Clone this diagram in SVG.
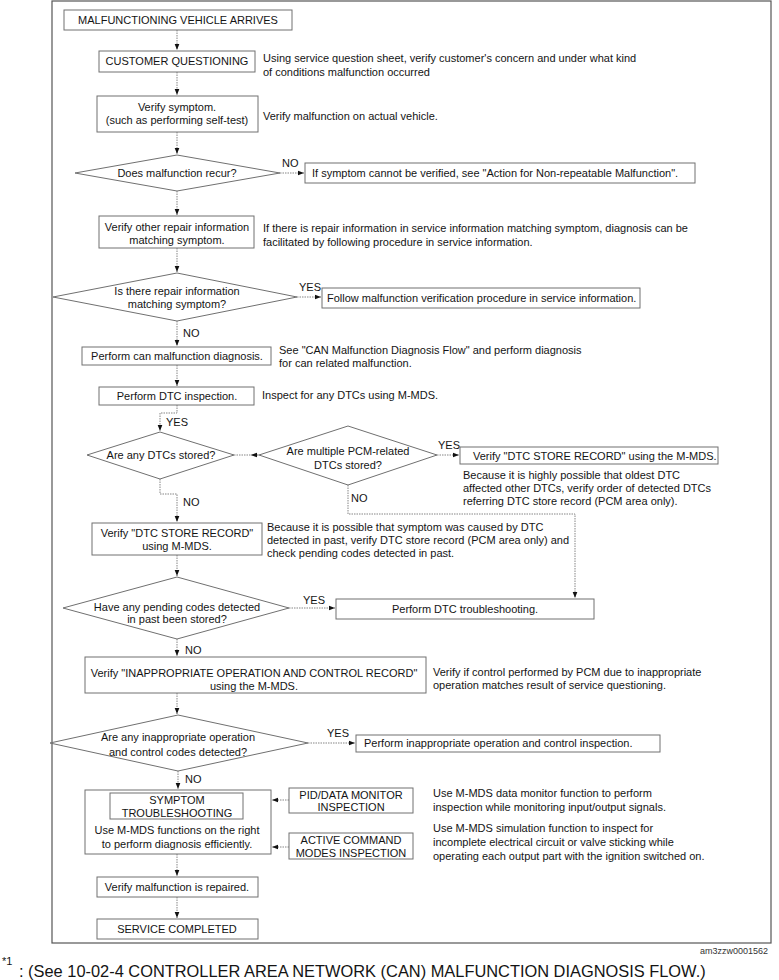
<svg xmlns="http://www.w3.org/2000/svg" width="779" height="980" viewBox="0 0 779 980">
<style>
text{font-family:"Liberation Sans",Arial,Helvetica,sans-serif;font-size:11px;fill:#141414}
.c{text-anchor:middle}
.b{fill:#fff;stroke:#707070;stroke-width:1}
.d{fill:#fff;stroke:#707070;stroke-width:1}
.kn{fill:none;stroke:#858585;stroke-width:1;stroke-dasharray:1.5 1;marker-end:url(#ah)}
.fr{fill:none;stroke:#555;stroke-width:1.2}
</style>
<defs>
<marker id="ah" markerUnits="userSpaceOnUse" markerWidth="7" markerHeight="6" refX="6" refY="3" orient="auto">
<path d="M0,0.7 L6,3 L0,5.3 z" fill="#111"/>
</marker>
</defs>
<rect width="779" height="980" fill="#fff"/>
<rect class="fr" x="52" y="1" width="719" height="942"/>

<g id="connectors">
<path class="kn" d="M177,30 V50"/>
<path class="kn" d="M177,72 V95"/>
<path class="kn" d="M177,132 V154"/>
<path class="kn" d="M280,173 H304"/>
<path class="kn" d="M177,191 V215"/>
<path class="kn" d="M177,248 V272"/>
<path class="kn" d="M297,297 H321"/>
<path class="kn" d="M177,321 V346"/>
<path class="kn" d="M177,365 V386"/>
<path class="kn" d="M177,405 V413 H160 V431"/>
<path class="kn" d="M234,455 H259 M259,455 H251"/>
<path class="kn" d="M437,455 H459"/>
<path class="kn" d="M160,479 V494 H177 V522"/>
<path class="kn" d="M348,485 V514 H575 V598"/>
<path class="kn" d="M177,555 V576"/>
<path class="kn" d="M289,608 H335"/>
<path class="kn" d="M177,639 V656"/>
<path class="kn" d="M177,693 V714"/>
<path class="kn" d="M308,743 H355"/>
<path class="kn" d="M178,771 V789"/>
<path class="kn" d="M289,800 H272"/>
<path class="kn" d="M289,847 H272"/>
<path class="kn" d="M177,854 V876"/>
<path class="kn" d="M177,897 V918"/>
<text x="282" y="167">NO</text>
<text x="299" y="291">YES</text>
<text x="183" y="337">NO</text>
<text x="166" y="426">YES</text>
<text x="438" y="449">YES</text>
<text x="183" y="506">NO</text>
<text x="351" y="502">NO</text>
<text x="303" y="604">YES</text>
<text x="185" y="654">NO</text>
<text x="327" y="737">YES</text>
<text x="185" y="783">NO</text>
</g>

<g id="n-arrives">
<rect class="b" x="64" y="10" width="228" height="20"/>
<text class="c" x="178" y="24">MALFUNCTIONING VEHICLE ARRIVES</text>
</g>
<g id="n-questioning">
<rect class="b" x="99" y="51" width="156" height="21"/>
<text class="c" x="177" y="65">CUSTOMER QUESTIONING</text>
<text x="263" y="62">Using service question sheet, verify customer's concern and under what kind</text>
<text x="263" y="76">of conditions malfunction occurred</text>
</g>
<g id="n-verify-symptom">
<rect class="b" x="97" y="96" width="161" height="36"/>
<text class="c" x="177" y="111">Verify symptom.</text>
<text class="c" x="177" y="124">(such as performing self-test)</text>
<text x="263" y="120">Verify malfunction on actual vehicle.</text>
</g>
<g id="n-recur">
<polygon class="d" points="177,155 280,173 177,191 75,173"/>
<text class="c" x="177" y="177">Does malfunction recur?</text>
</g>
<g id="n-nonrepeat">
<rect class="b" x="305" y="163" width="390" height="20"/>
<text x="312" y="177">If symptom cannot be verified, see "Action for Non-repeatable Malfunction".</text>
</g>
<g id="n-repair-info">
<rect class="b" x="99" y="216" width="155" height="32"/>
<text class="c" x="177" y="231">Verify other repair information</text>
<text class="c" x="177" y="244">matching symptom.</text>
<text x="263" y="232">If there is repair information in service information matching symptom, diagnosis can be</text>
<text x="263" y="246">facilitated by following procedure in service information.</text>
</g>
<g id="n-repair-match">
<polygon class="d" points="177,273 297,297 177,321 53,297"/>
<text class="c" x="177" y="295">Is there repair information</text>
<text class="c" x="177" y="308">matching symptom?</text>
</g>
<g id="n-follow">
<rect class="b" x="322" y="288" width="318" height="20"/>
<text x="327" y="302">Follow malfunction verification procedure in service information.</text>
</g>
<g id="n-can">
<rect class="b" x="82" y="347" width="189" height="18"/>
<text class="c" x="177" y="360">Perform can malfunction diagnosis.</text>
<text x="279" y="354">See "CAN Malfunction Diagnosis Flow" and perform diagnosis</text>
<text x="279" y="367">for can related malfunction.</text>
</g>
<g id="n-dtc-inspect">
<rect class="b" x="99" y="387" width="155" height="18"/>
<text class="c" x="177" y="400">Perform DTC inspection.</text>
<text x="262" y="399">Inspect for any DTCs using M-MDS.</text>
</g>
<g id="n-dtc-stored">
<polygon class="d" points="160,432 234,455 160,479 87,455"/>
<text class="c" x="161" y="459">Are any DTCs stored?</text>
</g>
<g id="n-pcm">
<polygon class="d" points="348,426 437,455 348,485 259,455"/>
<text class="c" x="348" y="455">Are multiple PCM-related</text>
<text class="c" x="348" y="469">DTCs stored?</text>
</g>
<g id="n-store-record-1">
<rect class="b" x="460" y="447" width="258" height="17"/>
<text x="473" y="460">Verify  "DTC STORE RECORD" using the M-MDS.</text>
<text x="463" y="479">Because it is highly possible that oldest DTC</text>
<text x="463" y="492">affected other DTCs, verify order of detected DTCs</text>
<text x="463" y="505">referring DTC store record (PCM area only).</text>
</g>
<g id="n-store-record-2">
<rect class="b" x="92" y="523" width="170" height="32"/>
<text class="c" x="177" y="537">Verify "DTC STORE RECORD"</text>
<text class="c" x="177" y="550">using M-MDS.</text>
<text x="267" y="531">Because it is possible that symptom was caused by DTC</text>
<text x="267" y="544">detected in past, verify DTC store record (PCM area only) and</text>
<text x="267" y="557">check pending codes detected in past.</text>
</g>
<g id="n-pending">
<polygon class="d" points="177,577 289,608 177,639 63,608"/>
<text class="c" x="177" y="611">Have any pending codes detected</text>
<text class="c" x="177" y="623">in past been stored?</text>
</g>
<g id="n-dtc-trouble">
<rect class="b" x="336" y="599" width="258" height="20"/>
<text class="c" x="465" y="613">Perform DTC troubleshooting.</text>
</g>
<g id="n-inappropriate-record">
<rect class="b" x="85" y="657" width="341" height="36"/>
<text class="c" x="254" y="677">Verify "INAPPROPRIATE OPERATION AND CONTROL RECORD"</text>
<text class="c" x="254" y="690">using the M-MDS.</text>
<text x="433" y="676">Verify if control performed by PCM due to inappropriate</text>
<text x="433" y="689">operation matches result of service questioning.</text>
</g>
<g id="n-inappropriate-codes">
<polygon class="d" points="178,715 308,743 178,771 50,743"/>
<text class="c" x="178" y="741">Are any inappropriate operation</text>
<text class="c" x="178" y="756">and control codes detected?</text>
</g>
<g id="n-inappropriate-inspect">
<rect class="b" x="356" y="735" width="304" height="17"/>
<text x="364" y="747">Perform inappropriate operation and control inspection.</text>
</g>
<g id="n-symptom">
<rect class="b" x="85" y="790" width="186" height="64"/>
<rect class="b" x="110" y="793" width="133" height="26"/>
<text class="c" x="177" y="804">SYMPTOM</text>
<text class="c" x="177" y="817">TROUBLESHOOTING</text>
<text class="c" x="177" y="834">Use M-MDS functions on the right</text>
<text class="c" x="177" y="848">to perform diagnosis efficiently.</text>
</g>
<g id="n-pid">
<rect class="b" x="289" y="788" width="124" height="25"/>
<text class="c" x="351" y="799">PID/DATA MONITOR</text>
<text class="c" x="351" y="811">INSPECTION</text>
<text x="433" y="797">Use M-MDS data monitor function to perform</text>
<text x="433" y="811">inspection while monitoring input/output signals.</text>
</g>
<g id="n-active">
<rect class="b" x="289" y="833" width="124" height="26"/>
<text class="c" x="351" y="844">ACTIVE COMMAND</text>
<text class="c" x="351" y="857">MODES INSPECTION</text>
<text x="433" y="832">Use M-MDS simulation function to inspect for</text>
<text x="433" y="846">incomplete electrical circuit or valve sticking while</text>
<text x="433" y="860">operating each output part with the ignition switched on.</text>
</g>
<g id="n-repaired">
<rect class="b" x="97" y="877" width="161" height="20"/>
<text class="c" x="177" y="891">Verify malfunction is repaired.</text>
</g>
<g id="n-completed">
<rect class="b" x="97" y="919" width="161" height="20"/>
<text class="c" x="177" y="933">SERVICE COMPLETED</text>
</g>

<text x="768" y="954" style="font-size:9px;text-anchor:end;fill:#333">am3zzw0001562</text>
<text x="2" y="965" style="font-size:11px">*1</text>
<text x="19" y="977" style="font-size:16.4px">: (See 10-02-4 CONTROLLER AREA NETWORK (CAN) MALFUNCTION DIAGNOSIS FLOW.)</text>
</svg>
